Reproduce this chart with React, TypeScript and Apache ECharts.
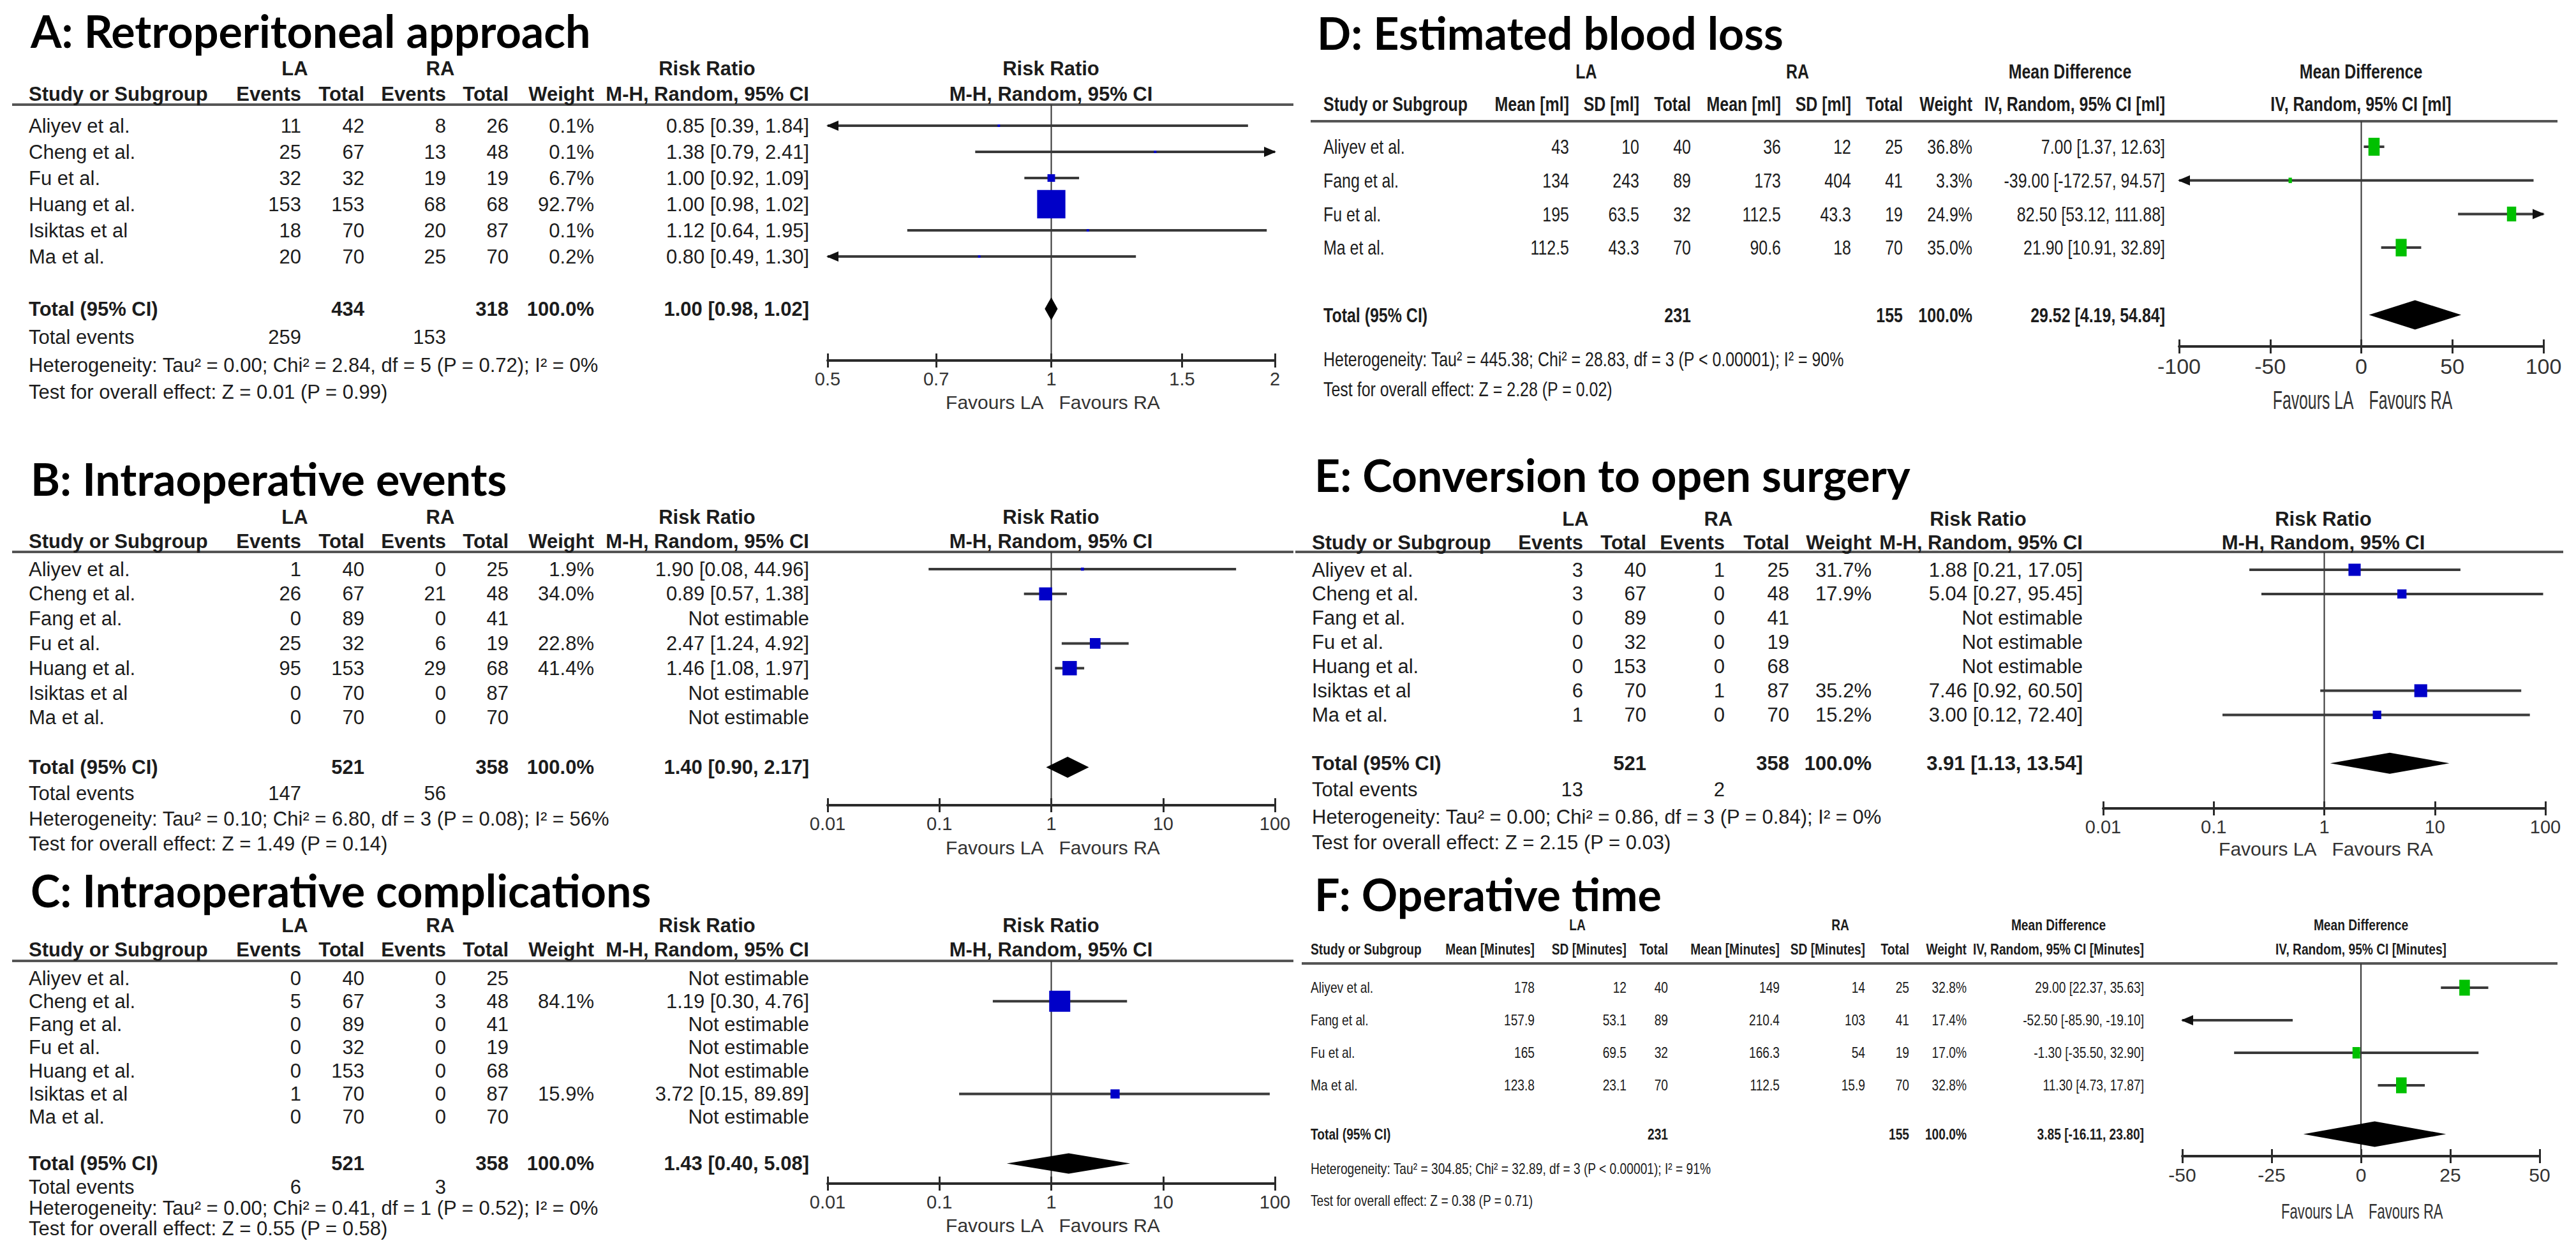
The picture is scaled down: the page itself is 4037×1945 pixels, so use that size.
import React, { useEffect, useRef } from "react";
import * as echarts from "echarts";

const FONT = "'Liberation Sans', Arial, Helvetica, sans-serif";
const TITLE_FONT = "Lato, 'Open Sans', 'Noto Sans', sans-serif";
const INK = "#1c1c1c";

// ---------------- Panel A ----------------
const titleA = "A: Retroperitoneal approach";
const studiesA = ["Aliyev et al.", "Cheng et al.", "Fu et al.", "Huang et al.", "Isiktas et al", "Ma et al."];
const laEventsA = [11, 25, 32, 153, 18, 20];
const laTotalA = [42, 67, 32, 153, 70, 70];
const raEventsA = [8, 13, 19, 68, 20, 25];
const raTotalA = [26, 48, 19, 68, 87, 70];
const weightA = [0.1, 0.1, 6.7, 92.7, 0.1, 0.2];
const estA = [0.85, 1.38, 1.0, 1.0, 1.12, 0.8];
const lowA = [0.39, 0.79, 0.92, 0.98, 0.64, 0.49];
const highA = [1.84, 2.41, 1.09, 1.02, 1.95, 1.3];
const totalA = [434, 318];
const pooledA = [1.0, 0.98, 1.02];
const totalEventsA = [259, 153];
const hetA = "Heterogeneity: Tau² = 0.00; Chi² = 2.84, df = 5 (P = 0.72); I² = 0%";
const testA = "Test for overall effect: Z = 0.01 (P = 0.99)";
const ticksA = [0.5, 0.7, 1, 1.5, 2];

// ---------------- Panel B ----------------
const titleB = "B: Intraoperative events";
const studiesB = ["Aliyev et al.", "Cheng et al.", "Fang et al.", "Fu et al.", "Huang et al.", "Isiktas et al", "Ma et al."];
const laEventsB = [1, 26, 0, 25, 95, 0, 0];
const laTotalB = [40, 67, 89, 32, 153, 70, 70];
const raEventsB = [0, 21, 0, 6, 29, 0, 0];
const raTotalB = [25, 48, 41, 19, 68, 87, 70];
const weightB = [1.9, 34.0, null, 22.8, 41.4, null, null];
const estB = [1.9, 0.89, null, 2.47, 1.46, null, null];
const lowB = [0.08, 0.57, null, 1.24, 1.08, null, null];
const highB = [44.96, 1.38, null, 4.92, 1.97, null, null];
const totalB = [521, 358];
const pooledB = [1.4, 0.9, 2.17];
const totalEventsB = [147, 56];
const hetB = "Heterogeneity: Tau² = 0.10; Chi² = 6.80, df = 3 (P = 0.08); I² = 56%";
const testB = "Test for overall effect: Z = 1.49 (P = 0.14)";
const ticksB = [0.01, 0.1, 1, 10, 100];

// ---------------- Panel C ----------------
const titleC = "C: Intraoperative complications";
const studiesC = ["Aliyev et al.", "Cheng et al.", "Fang et al.", "Fu et al.", "Huang et al.", "Isiktas et al", "Ma et al."];
const laEventsC = [0, 5, 0, 0, 0, 1, 0];
const laTotalC = [40, 67, 89, 32, 153, 70, 70];
const raEventsC = [0, 3, 0, 0, 0, 0, 0];
const raTotalC = [25, 48, 41, 19, 68, 87, 70];
const weightC = [null, 84.1, null, null, null, 15.9, null];
const estC = [null, 1.19, null, null, null, 3.72, null];
const lowC = [null, 0.3, null, null, null, 0.15, null];
const highC = [null, 4.76, null, null, null, 89.89, null];
const totalC = [521, 358];
const pooledC = [1.43, 0.4, 5.08];
const totalEventsC = [6, 3];
const hetC = "Heterogeneity: Tau² = 0.00; Chi² = 0.41, df = 1 (P = 0.52); I² = 0%";
const testC = "Test for overall effect: Z = 0.55 (P = 0.58)";
const ticksC = [0.01, 0.1, 1, 10, 100];

// ---------------- Panel D ----------------
const titleD = "D: Estimated blood loss";
const studiesD = ["Aliyev et al.", "Fang et al.", "Fu et al.", "Ma et al."];
const laMeanD = [43, 134, 195, 112.5];
const laSdD = [10, 243, 63.5, 43.3];
const laTotalD = [40, 89, 32, 70];
const raMeanD = [36, 173, 112.5, 90.6];
const raSdD = [12, 404, 43.3, 18];
const raTotalD = [25, 41, 19, 70];
const weightD = [36.8, 3.3, 24.9, 35.0];
const estD = [7.0, -39.0, 82.5, 21.9];
const lowD = [1.37, -172.57, 53.12, 10.91];
const highD = [12.63, 94.57, 111.88, 32.89];
const totalD = [231, 155];
const pooledD = [29.52, 4.19, 54.84];
const hetD = "Heterogeneity: Tau² = 445.38; Chi² = 28.83, df = 3 (P < 0.00001); I² = 90%";
const testD = "Test for overall effect: Z = 2.28 (P = 0.02)";
const ticksD = [-100, -50, 0, 50, 100];

// ---------------- Panel E ----------------
const titleE = "E: Conversion to open surgery";
const studiesE = ["Aliyev et al.", "Cheng et al.", "Fang et al.", "Fu et al.", "Huang et al.", "Isiktas et al", "Ma et al."];
const laEventsE = [3, 3, 0, 0, 0, 6, 1];
const laTotalE = [40, 67, 89, 32, 153, 70, 70];
const raEventsE = [1, 0, 0, 0, 0, 1, 0];
const raTotalE = [25, 48, 41, 19, 68, 87, 70];
const weightE = [31.7, 17.9, null, null, null, 35.2, 15.2];
const estE = [1.88, 5.04, null, null, null, 7.46, 3.0];
const lowE = [0.21, 0.27, null, null, null, 0.92, 0.12];
const highE = [17.05, 95.45, null, null, null, 60.5, 72.4];
const totalE = [521, 358];
const pooledE = [3.91, 1.13, 13.54];
const totalEventsE = [13, 2];
const hetE = "Heterogeneity: Tau² = 0.00; Chi² = 0.86, df = 3 (P = 0.84); I² = 0%";
const testE = "Test for overall effect: Z = 2.15 (P = 0.03)";
const ticksE = [0.01, 0.1, 1, 10, 100];

// ---------------- Panel F ----------------
const titleF = "F: Operative time";
const studiesF = ["Aliyev et al.", "Fang et al.", "Fu et al.", "Ma et al."];
const laMeanF = [178, 157.9, 165, 123.8];
const laSdF = [12, 53.1, 69.5, 23.1];
const laTotalF = [40, 89, 32, 70];
const raMeanF = [149, 210.4, 166.3, 112.5];
const raSdF = [14, 103, 54, 15.9];
const raTotalF = [25, 41, 19, 70];
const weightF = [32.8, 17.4, 17.0, 32.8];
const estF = [29.0, -52.5, -1.3, 11.3];
const lowF = [22.37, -85.9, -35.5, 4.73];
const highF = [35.63, -19.1, 32.9, 17.87];
const totalF = [231, 155];
const pooledF = [3.85, -16.11, 23.8];
const hetF = "Heterogeneity: Tau² = 304.85; Chi² = 32.89, df = 3 (P < 0.00001); I² = 91%";
const testF = "Test for overall effect: Z = 0.38 (P = 0.71)";
const ticksF = [-50, -25, 0, 25, 50];

// ---------------- helpers ----------------
const f2 = (v: number) => v.toFixed(2);
const ciText = (e: number | null, l: number | null, h: number | null) =>
  e == null ? "Not estimable" : `${f2(e)} [${f2(l as number)}, ${f2(h as number)}]`;
const wText = (w: number | null) => (w == null ? "" : w.toFixed(1) + "%");
const str = (v: number) => String(v);

type Col = { head: string; vals: string[]; total?: string; events?: string };

type Spec = {
  title: string;
  studies: string[];
  cols: Col[];
  estHead: [string, string];
  plotHead: [string, string];
  est: (number | null)[];
  low: (number | null)[];
  high: (number | null)[];
  weight: (number | null)[];
  pooled: number[];
  het: string;
  test: string;
  ticks: number[];
  log: boolean;
  ref: number;
  hasEvents: boolean;
  boxColor: string;
};

type Layout = {
  titleX: number; titleY: number;
  nameX: number; colX: number[]; estX: number; laX: number; raX: number; estHeadX: number;
  plotX0: number; plotX1: number; plotHeadX: number; lineX0: number; lineX1: number;
  laraY: number; headY: number; lineY: number; row0: number; pitch: number; totalIdx: number;
  evY: number; hetY: number; testY: number; axisY: number; favY: number;
  fs: number; sx: number; tickFs: number; favFs: number; favSx: number;
  boxK: number; boxAspect: number; diamondH: number;
};

function binaryCols(laE: number[], laT: number[], raE: number[], raT: number[], w: (number | null)[], tot: number[], ev: number[]): Col[] {
  return [
    { head: "Events", vals: laE.map(str), events: str(ev[0]) },
    { head: "Total", vals: laT.map(str), total: str(tot[0]) },
    { head: "Events", vals: raE.map(str), events: str(ev[1]) },
    { head: "Total", vals: raT.map(str), total: str(tot[1]) },
    { head: "Weight", vals: w.map(wText), total: "100.0%" },
  ];
}

function contCols(unit: string, lm: number[], ls: number[], lt: number[], rm: number[], rs: number[], rt: number[], w: (number | null)[], tot: number[]): Col[] {
  return [
    { head: `Mean [${unit}]`, vals: lm.map(str) },
    { head: `SD [${unit}]`, vals: ls.map(str) },
    { head: "Total", vals: lt.map(str), total: str(tot[0]) },
    { head: `Mean [${unit}]`, vals: rm.map(str) },
    { head: `SD [${unit}]`, vals: rs.map(str) },
    { head: "Total", vals: rt.map(str), total: str(tot[1]) },
    { head: "Weight", vals: w.map(wText), total: "100.0%" },
  ];
}

const RR: [string, string] = ["Risk Ratio", "M-H, Random, 95% CI"];
const BLUE = "#0000c8";
const GREEN = "#00c000";

const specs: Spec[] = [
  { title: titleA, studies: studiesA, cols: binaryCols(laEventsA, laTotalA, raEventsA, raTotalA, weightA, totalA, totalEventsA), estHead: RR, plotHead: RR, est: estA, low: lowA, high: highA, weight: weightA, pooled: pooledA, het: hetA, test: testA, ticks: ticksA, log: true, ref: 1, hasEvents: true, boxColor: BLUE },
  { title: titleB, studies: studiesB, cols: binaryCols(laEventsB, laTotalB, raEventsB, raTotalB, weightB, totalB, totalEventsB), estHead: RR, plotHead: RR, est: estB, low: lowB, high: highB, weight: weightB, pooled: pooledB, het: hetB, test: testB, ticks: ticksB, log: true, ref: 1, hasEvents: true, boxColor: BLUE },
  { title: titleC, studies: studiesC, cols: binaryCols(laEventsC, laTotalC, raEventsC, raTotalC, weightC, totalC, totalEventsC), estHead: RR, plotHead: RR, est: estC, low: lowC, high: highC, weight: weightC, pooled: pooledC, het: hetC, test: testC, ticks: ticksC, log: true, ref: 1, hasEvents: true, boxColor: BLUE },
  { title: titleD, studies: studiesD, cols: contCols("ml", laMeanD, laSdD, laTotalD, raMeanD, raSdD, raTotalD, weightD, totalD), estHead: ["Mean Difference", "IV, Random, 95% CI [ml]"], plotHead: ["Mean Difference", "IV, Random, 95% CI [ml]"], est: estD, low: lowD, high: highD, weight: weightD, pooled: pooledD, het: hetD, test: testD, ticks: ticksD, log: false, ref: 0, hasEvents: false, boxColor: GREEN },
  { title: titleE, studies: studiesE, cols: binaryCols(laEventsE, laTotalE, raEventsE, raTotalE, weightE, totalE, totalEventsE), estHead: RR, plotHead: RR, est: estE, low: lowE, high: highE, weight: weightE, pooled: pooledE, het: hetE, test: testE, ticks: ticksE, log: true, ref: 1, hasEvents: true, boxColor: BLUE },
  { title: titleF, studies: studiesF, cols: contCols("Minutes", laMeanF, laSdF, laTotalF, raMeanF, raSdF, raTotalF, weightF, totalF), estHead: ["Mean Difference", "IV, Random, 95% CI [Minutes]"], plotHead: ["Mean Difference", "IV, Random, 95% CI [Minutes]"], est: estF, low: lowF, high: highF, weight: weightF, pooled: pooledF, het: hetF, test: testF, ticks: ticksF, log: false, ref: 0, hasEvents: false, boxColor: GREEN },
];

const leftCols = { titleX: 48, nameX: 45, colX: [472, 571, 699, 797, 931], estX: 1268, laX: 462, raX: 690, estHeadX: 1108, plotX0: 1297, plotX1: 1998, plotHeadX: 1647, lineX0: 19, lineX1: 2027, fs: 31, sx: 1, tickFs: 29, favFs: 30, favSx: 1 };

const layouts: Layout[] = [
  { ...leftCols, titleY: 45, laraY: 107, headY: 147, lineY: 164, row0: 197, pitch: 41, totalIdx: 7, evY: 528, hetY: 572, testY: 614, axisY: 565, favY: 630, boxK: 4.6, boxAspect: 1, diamondH: 36 },
  { ...leftCols, titleY: 747, laraY: 810, headY: 848, lineY: 865, row0: 892, pitch: 38.8, totalIdx: 8, evY: 1243, hetY: 1283, testY: 1322, axisY: 1262, favY: 1328, boxK: 3.5, boxAspect: 1, diamondH: 33 },
  { ...leftCols, titleY: 1392, laraY: 1450, headY: 1488, lineY: 1506, row0: 1533, pitch: 36.3, totalIdx: 8, evY: 1860, hetY: 1893, testY: 1925, axisY: 1855, favY: 1920, boxK: 3.6, boxAspect: 1, diamondH: 32 },
  { titleX: 2064, titleY: 48, nameX: 2074, colX: [2459, 2569, 2650, 2791, 2901, 2982, 3091], estX: 3393, laX: 2486, raX: 2817, estHeadX: 3244, plotX0: 3415, plotX1: 3986, plotHeadX: 3700, lineX0: 2054, lineX1: 4008, laraY: 112, headY: 163, lineY: 190, row0: 230, pitch: 52.7, totalIdx: 5, evY: 0, hetY: 563, testY: 610, axisY: 543, favY: 627, fs: 32, sx: 0.78, tickFs: 34, favFs: 40, favSx: 0.62, boxK: 2.9, boxAspect: 1.6, diamondH: 46 },
  { titleX: 2060, titleY: 741, nameX: 2056, colX: [2481, 2580, 2703, 2804, 2933], estX: 3264, laX: 2469, raX: 2693, estHeadX: 3100, plotX0: 3296, plotX1: 3989, plotHeadX: 3641, lineX0: 2030, lineX1: 4017, laraY: 813, headY: 850, lineY: 865, row0: 893, pitch: 37.9, totalIdx: 8, evY: 1237, hetY: 1280, testY: 1320, axisY: 1267, favY: 1330, fs: 31, sx: 1, tickFs: 29, favFs: 30, favSx: 1, boxK: 3.4, boxAspect: 1, diamondH: 33 },
  { titleX: 2060, titleY: 1398, nameX: 2054, colX: [2405, 2549, 2614, 2789, 2923, 2992, 3082], estX: 3360, laX: 2472, raX: 2884, estHeadX: 3226, plotX0: 3420, plotX1: 3980, plotHeadX: 3700, lineX0: 2040, lineX1: 4008, laraY: 1450, headY: 1488, lineY: 1510, row0: 1548, pitch: 51, totalIdx: 4.5, evY: 0, hetY: 1832, testY: 1882, axisY: 1812, favY: 1898, fs: 24, sx: 0.8, tickFs: 30, favFs: 34, favSx: 0.65, boxK: 2.9, boxAspect: 1.5, diamondH: 40 },
];

function buildOption() {
  const graphics: any[] = [];
  const grids: any[] = [];
  const xAxes: any[] = [];
  const yAxes: any[] = [];
  const series: any[] = [];

  specs.forEach((S, gi) => {
    const L = layouts[gi];
    const tf = (v: number) => (S.log ? Math.log10(v) : v);
    const xmin = tf(S.ticks[0]);
    const xmax = tf(S.ticks[S.ticks.length - 1]);
    const T = (x: number, y: number, text: string, o: any = {}) => {
      const align = o.align ?? "left";
      graphics.push({
        type: "text", x, y, scaleX: o.sx ?? L.sx, silent: true, z: 10,
        style: {
          text, fontSize: o.fs ?? L.fs, fontFamily: o.family ?? FONT,
          fontWeight: o.bold ? "bold" : "normal", fill: o.color ?? INK,
          align, verticalAlign: "middle", textAlign: align, textVerticalAlign: "middle",
        },
      });
    };
    // title
    T(L.titleX, L.titleY + 3, S.title, { fs: 70, sx: 1, bold: true, family: TITLE_FONT, color: "#000" });
    // group headers
    T(L.laX, L.laraY, "LA", { bold: true, align: "center" });
    T(L.raX, L.laraY, "RA", { bold: true, align: "center" });
    T(L.estHeadX, L.laraY, S.estHead[0], { bold: true, align: "center" });
    T(L.plotHeadX, L.laraY, S.plotHead[0], { bold: true, align: "center" });
    T(L.plotHeadX, L.headY, S.plotHead[1], { bold: true, align: "center" });
    T(L.nameX, L.headY, "Study or Subgroup", { bold: true });
    S.cols.forEach((c, j) => T(L.colX[j], L.headY, c.head, { bold: true, align: "right" }));
    T(L.estX, L.headY, S.estHead[1], { bold: true, align: "right" });
    graphics.push({ type: "line", silent: true, shape: { x1: L.lineX0, y1: L.lineY, x2: L.lineX1, y2: L.lineY }, style: { stroke: "#555", lineWidth: 4 } });
    // rows
    S.studies.forEach((name, i) => {
      const y = L.row0 + i * L.pitch;
      T(L.nameX, y, name);
      S.cols.forEach((c, j) => { if (c.vals[i]) T(L.colX[j], y, c.vals[i], { align: "right" }); });
      T(L.estX, y, ciText(S.est[i], S.low[i], S.high[i]), { align: "right" });
    });
    const ty = L.row0 + L.totalIdx * L.pitch;
    T(L.nameX, ty, "Total (95% CI)", { bold: true });
    S.cols.forEach((c, j) => { if (c.total) T(L.colX[j], ty, c.total, { bold: true, align: "right" }); });
    T(L.estX, ty, ciText(S.pooled[0], S.pooled[1], S.pooled[2]), { bold: true, align: "right" });
    if (S.hasEvents) {
      T(L.nameX, L.evY, "Total events");
      S.cols.forEach((c, j) => { if (c.events) T(L.colX[j], L.evY, c.events, { align: "right" }); });
    }
    T(L.nameX, L.hetY, S.het);
    T(L.nameX, L.testY, S.test);
    const refX = L.plotX0 + ((tf(S.ref) - xmin) / (xmax - xmin)) * (L.plotX1 - L.plotX0);
    T(refX - 12, L.favY, "Favours LA", { align: "right", fs: L.favFs, sx: L.favSx, color: "#333" });
    T(refX + 12, L.favY, "Favours RA", { align: "left", fs: L.favFs, sx: L.favSx, color: "#333" });

    // grid + axes
    grids.push({ left: L.plotX0, top: L.lineY, width: L.plotX1 - L.plotX0, height: L.axisY - L.lineY, outerBoundsMode: "none", containLabel: false });
    const tv = S.ticks.map(tf);
    const lab = (v: number) => {
      let best = 0;
      tv.forEach((t, k) => { if (Math.abs(t - v) < Math.abs(tv[best] - v)) best = k; });
      return String(S.ticks[best]);
    };
    xAxes.push({
      gridIndex: gi, type: "value", min: xmin, max: xmax, position: "bottom",
      axisLine: { show: true, onZero: false, lineStyle: { color: "#2a2a2a", width: 4 } },
      axisTick: { show: true, customValues: tv, length: 11, lineStyle: { color: "#2a2a2a", width: 3 } },
      axisLabel: { show: true, customValues: tv, formatter: lab, fontSize: L.tickFs, fontFamily: FONT, color: "#333", margin: 14 },
      splitLine: { show: false },
    });
    xAxes.push({
      gridIndex: gi, type: "value", min: xmin, max: xmax, position: "bottom",
      axisLine: { show: false, onZero: false },
      axisTick: { show: true, inside: true, customValues: tv, length: 11, lineStyle: { color: "#2a2a2a", width: 3 } },
      axisLabel: { show: false },
      splitLine: { show: false },
    });
    const yTop = (L.lineY - L.row0) / L.pitch;
    const yBot = (L.axisY - L.row0) / L.pitch;
    yAxes.push({ gridIndex: gi, type: "value", inverse: true, min: yTop, max: yBot, show: false });

    // reference line
    series.push({
      type: "line", xAxisIndex: 2 * gi, yAxisIndex: gi, silent: true, symbol: "none", z: 1,
      data: [[tf(S.ref), yTop], [tf(S.ref), yBot]],
      lineStyle: { color: "#333", width: 2 },
    });
    // studies
    const pts: number[][] = [];
    S.est.forEach((e, i) => {
      if (e != null) pts.push([tf(e), tf(S.low[i] as number), tf(S.high[i] as number), i, S.weight[i] as number]);
    });
    series.push({
      type: "custom", xAxisIndex: 2 * gi, yAxisIndex: gi, silent: true, z: 3, clip: false,
      data: pts,
      encode: { x: [0, 1, 2], y: 3 },
      renderItem: (_p: any, api: any) => {
        const e = api.value(0), lo = api.value(1), hi = api.value(2), row = api.value(3), w = api.value(4);
        const p0 = api.coord([Math.max(lo, xmin), row]);
        const p1 = api.coord([Math.min(hi, xmax), row]);
        const pe = api.coord([e, row]);
        const ch: any[] = [
          { type: "line", shape: { x1: p0[0], y1: p0[1], x2: p1[0], y2: p1[1] }, style: { stroke: "#3a3a3a", lineWidth: 4 } },
        ];
        if (lo < xmin) ch.push({ type: "polygon", shape: { points: [[p0[0] - 2, p0[1]], [p0[0] + 17, p0[1] - 8], [p0[0] + 17, p0[1] + 8]] }, style: { fill: "#111" } });
        if (hi > xmax) ch.push({ type: "polygon", shape: { points: [[p1[0] + 2, p1[1]], [p1[0] - 17, p1[1] - 8], [p1[0] - 17, p1[1] + 8]] }, style: { fill: "#111" } });
        if (e >= xmin && e <= xmax) {
          const s = Math.max(4, L.boxK * Math.sqrt(w));
          const sh = s * L.boxAspect;
          ch.push({ type: "rect", shape: { x: pe[0] - s / 2, y: pe[1] - sh / 2, width: s, height: sh }, style: { fill: S.boxColor } });
        }
        return { type: "group", children: ch };
      },
    });
    // pooled diamond
    series.push({
      type: "custom", xAxisIndex: 2 * gi, yAxisIndex: gi, silent: true, z: 4, clip: false,
      data: [[tf(S.pooled[0]), tf(S.pooled[1]), tf(S.pooled[2]), L.totalIdx]],
      encode: { x: [0, 1, 2], y: 3 },
      renderItem: (_p: any, api: any) => {
        const e = api.coord([api.value(0), api.value(3)]);
        const a = api.coord([api.value(1), api.value(3)]);
        const b = api.coord([api.value(2), api.value(3)]);
        const h = L.diamondH / 2;
        return { type: "polygon", shape: { points: [[a[0], a[1]], [e[0], e[1] - h], [b[0], b[1]], [e[0], e[1] + h]] }, style: { fill: "#000" } };
      },
    });
  });

  return {
    animation: false,
    backgroundColor: "#ffffff",
    grid: grids,
    xAxis: xAxes,
    yAxis: yAxes,
    series,
    graphic: { elements: graphics },
  };
}

export default function App() {
  const ref = useRef<HTMLDivElement>(null);
  useEffect(() => {
    if (!ref.current) return;
    const chart = echarts.init(ref.current, undefined, { renderer: "svg" });
    chart.setOption(buildOption() as any);
    return () => chart.dispose();
  }, []);
  return <div ref={ref} style={{ position: "absolute", left: 0, top: 0, width: 4037, height: 1945, background: "#fff" }} />;
}
